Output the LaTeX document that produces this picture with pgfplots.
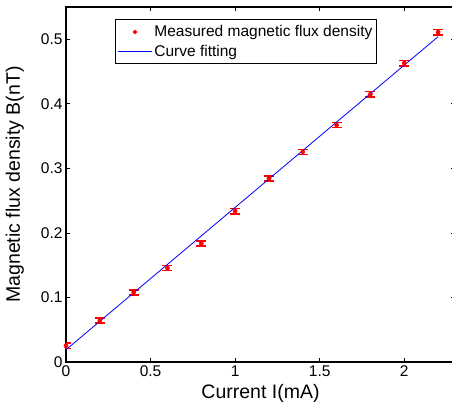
\documentclass[border=0pt]{standalone}
\usepackage{pgfplots}
\pgfplotsset{compat=1.18}
\usepackage{fontspec}
\setmainfont{Liberation Sans}
\pgfplotsset{
  marklegend/.style={legend image code/.code={\draw[##1, mark size=1.5pt] plot coordinates {(17pt,0pt)};}},
  linelegend/.style={legend image code/.code={\draw[##1, blue, line width=0.8pt] (0pt,0pt) -- (34pt,0pt);}},
}
\begin{document}
\begin{tikzpicture}
\begin{axis}[
  scale only axis,
  width=389pt, height=355pt,
  xmin=0, xmax=2.3, ymin=0, ymax=0.55,
  xtick={0,0.5,1,1.5,2},
  ytick={0,0.1,0.2,0.3,0.4,0.5},
  tick align=inside,
  major tick length=4pt,
  every tick/.style={black, line width=0.8pt},
  axis line style={line width=1.4pt},
  /pgf/number format/assume math mode=true,
  ticklabel style={font=\fontsize{15.5}{18}\selectfont},
  xlabel={Current I(mA)},
  ylabel={Magnetic flux density B(nT)},
  label style={font=\fontsize{19.5}{22}\selectfont},
  xlabel style={at={(axis description cs:0.5,0)}, anchor=north, inner sep=0pt, yshift=-22.5pt},
  ylabel style={at={(axis description cs:0,0.5)}, rotate=0, anchor=south, inner sep=0pt, yshift=42pt},
  legend style={at={(axis description cs:0.126,0.966)}, anchor=north west,
    draw=black, line width=1.2pt, font=\fontsize{15.5}{18}\selectfont,
    inner xsep=2pt, inner ysep=4pt, row sep=2.5pt,
    cells={anchor=west}},
  legend cell align=left,
]
\addplot[only marks, mark=*, mark size=2.1pt, red, marklegend,
  error bars/.cd, y dir=both, y explicit,
  error mark=|,
  error bar style={red, line width=1.3pt},
  error mark options={red, mark size=5pt, line width=1.6pt},
]
  table[x=x, y=y, y error=e] {
x    y       e
0.0  0.0250  0.004
0.2  0.0640  0.004
0.4  0.1080  0.004
0.6  0.1455  0.004
0.8  0.1837  0.004
1.0  0.2337  0.004
1.2  0.2843  0.004
1.4  0.3255  0.004
1.6  0.3670  0.004
1.8  0.4150  0.004
2.0  0.4630  0.004
2.2  0.5110  0.004
};
\addlegendentry{Measured magnetic flux density}
\addplot[blue, line width=0.8pt, no marks, linelegend]
  coordinates {(0,0.019) (2.2,0.504)};
\addlegendentry{Curve fitting}
\end{axis}
\pgfresetboundingbox
\path[use as bounding box] ([xshift=-66pt,yshift=-41pt]current axis.south west) rectangle ([xshift=-3pt,yshift=7pt]current axis.north east);
\end{tikzpicture}
\end{document}
